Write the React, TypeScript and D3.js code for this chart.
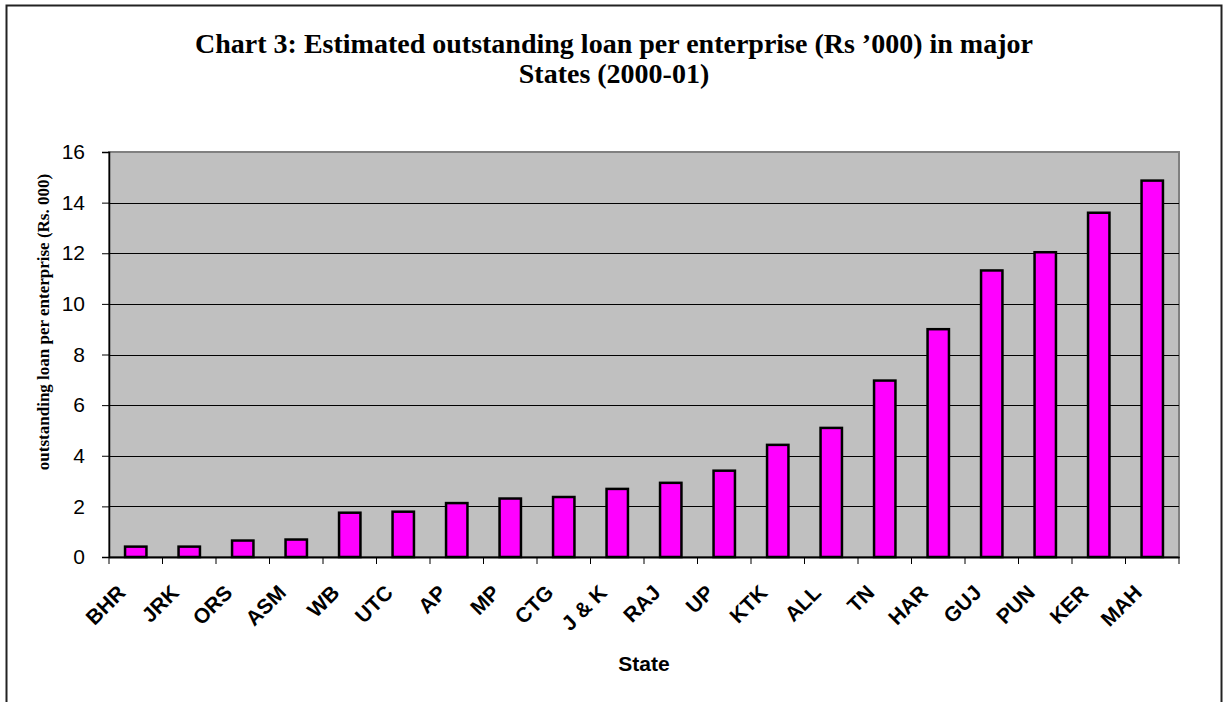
import React, { useRef, useEffect } from 'react';
import * as d3 from 'd3';

const states = [
  'BHR', 'JRK', 'ORS', 'ASM', 'WB', 'UTC', 'AP', 'MP', 'CTG', 'J & K',
  'RAJ', 'UP', 'KTK', 'ALL', 'TN', 'HAR', 'GUJ', 'PUN', 'KER', 'MAH',
];
const loanPerEnterprise = [
  0.41, 0.41, 0.65, 0.69, 1.75, 1.79, 2.13, 2.31, 2.37, 2.69,
  2.93, 3.41, 4.43, 5.1, 6.97, 9.0, 11.32, 12.04, 13.6, 14.87,
];
const yTicks = [0, 2, 4, 6, 8, 10, 12, 14, 16];
const titleLines = [
  'Chart 3: Estimated outstanding loan per enterprise (Rs \u2019000) in major',
  'States (2000-01)',
];

const WIDTH = 1226;
const HEIGHT = 702;
const serif = '"Liberation Serif", "Times New Roman", serif';
const sans = '"Liberation Sans", Arial, sans-serif';

const App: React.FC = () => {
  const svgRef = useRef<SVGSVGElement>(null);

  useEffect(() => {
    if (!svgRef.current) return;
    const svg = d3.select(svgRef.current);
    svg.selectAll('*').remove();

    const plot = { left: 109, right: 1179, top: 152, bottom: 557 };

    const x = d3.scaleBand<string>().domain(states).range([plot.left, plot.right]).paddingInner(0).paddingOuter(0);
    const y = d3.scaleLinear().domain([0, 16]).range([plot.bottom, plot.top]);
    const barW = x.bandwidth() / 2.5;

    // outer chart frame
    svg
      .append('rect')
      .attr('x', 6.5)
      .attr('y', 5.5)
      .attr('width', 1215)
      .attr('height', 760)
      .attr('fill', '#fff')
      .attr('stroke', '#222')
      .attr('stroke-width', 2);

    // title
    const title = svg
      .append('text')
      .attr('text-anchor', 'middle')
      .attr('font-family', serif)
      .attr('font-weight', 'bold')
      .attr('font-size', 28)
      .attr('fill', '#000');
    titleLines.forEach((line, i) => {
      title
        .append('tspan')
        .attr('x', 614)
        .attr('y', 53 + i * 30)
        .text(line);
    });

    // plot background
    svg
      .append('rect')
      .attr('x', plot.left)
      .attr('y', plot.top)
      .attr('width', plot.right - plot.left)
      .attr('height', plot.bottom - plot.top)
      .attr('fill', '#c0c0c0')
      .attr('stroke', '#808080')
      .attr('stroke-width', 2);

    // gridlines
    svg
      .append('g')
      .selectAll('line')
      .data(yTicks.filter((t) => t > 0 && t < 16))
      .join('line')
      .attr('x1', plot.left)
      .attr('x2', plot.right)
      .attr('y1', (d) => Math.round(y(d)) + 0.5)
      .attr('y2', (d) => Math.round(y(d)) + 0.5)
      .attr('stroke', '#000')
      .attr('stroke-width', 1);

    // bars
    svg
      .append('g')
      .selectAll('rect')
      .data(states)
      .join('rect')
      .attr('x', (d) => (x(d) as number) + x.bandwidth() / 2 - barW / 2)
      .attr('y', (d, i) => y(loanPerEnterprise[i]))
      .attr('width', barW)
      .attr('height', (d, i) => plot.bottom - y(loanPerEnterprise[i]))
      .attr('fill', '#ff00ff')
      .attr('stroke', '#000')
      .attr('stroke-width', 2.5);

    // y axis
    const yAxis = svg
      .append('g')
      .attr('transform', `translate(${plot.left},0)`)
      .call(
        d3
          .axisLeft(y)
          .tickValues(yTicks)
          .tickSize(7)
          .tickPadding(17)
          .tickFormat(d3.format('d'))
      );
    yAxis.select('.domain').attr('stroke', '#000').attr('stroke-width', 1.5);
    yAxis.selectAll('.tick line').attr('stroke', '#000');
    yAxis
      .selectAll('.tick text')
      .attr('font-family', sans)
      .attr('font-size', 21)
      .attr('fill', '#000');

    // x axis
    const xAxis = svg
      .append('g')
      .attr('transform', `translate(0,${plot.bottom})`)
      .call(d3.axisBottom(x).tickSize(0).tickFormat(() => ''));
    xAxis.select('.domain').attr('stroke', '#000').attr('stroke-width', 2);

    // category boundary ticks
    const boundaries = states.map((s) => x(s) as number).concat([plot.right]);
    svg
      .append('g')
      .selectAll('line')
      .data(boundaries)
      .join('line')
      .attr('x1', (d) => d)
      .attr('x2', (d) => d)
      .attr('y1', plot.bottom)
      .attr('y2', plot.bottom + 7)
      .attr('stroke', '#000')
      .attr('stroke-width', 1);

    // rotated category labels
    svg
      .append('g')
      .selectAll('text')
      .data(states)
      .join('text')
      .attr(
        'transform',
        (d) => `translate(${(x(d) as number) + x.bandwidth() / 2 - 9},${plot.bottom + 37}) rotate(-45)`
      )
      .attr('text-anchor', 'end')
      .attr('font-family', sans)
      .attr('font-weight', 'bold')
      .attr('font-size', 21)
      .attr('fill', '#000')
      .text((d) => d);

    // axis titles
    svg
      .append('text')
      .attr('x', (plot.left + plot.right) / 2)
      .attr('y', 671)
      .attr('text-anchor', 'middle')
      .attr('font-family', sans)
      .attr('font-weight', 'bold')
      .attr('font-size', 21)
      .attr('fill', '#000')
      .text('State');

    svg
      .append('text')
      .attr('transform', 'translate(49,322) rotate(-90)')
      .attr('text-anchor', 'middle')
      .attr('font-family', serif)
      .attr('font-weight', 'bold')
      .attr('font-size', 17)
      .attr('fill', '#000')
      .text('outstanding loan per enterprise (Rs. 000)');
  }, []);

  return (
    <svg
      ref={svgRef}
      width={WIDTH}
      height={HEIGHT}
      style={{ position: 'absolute', left: 0, top: 0, background: '#fff' }}
    />
  );
};

export default App;
